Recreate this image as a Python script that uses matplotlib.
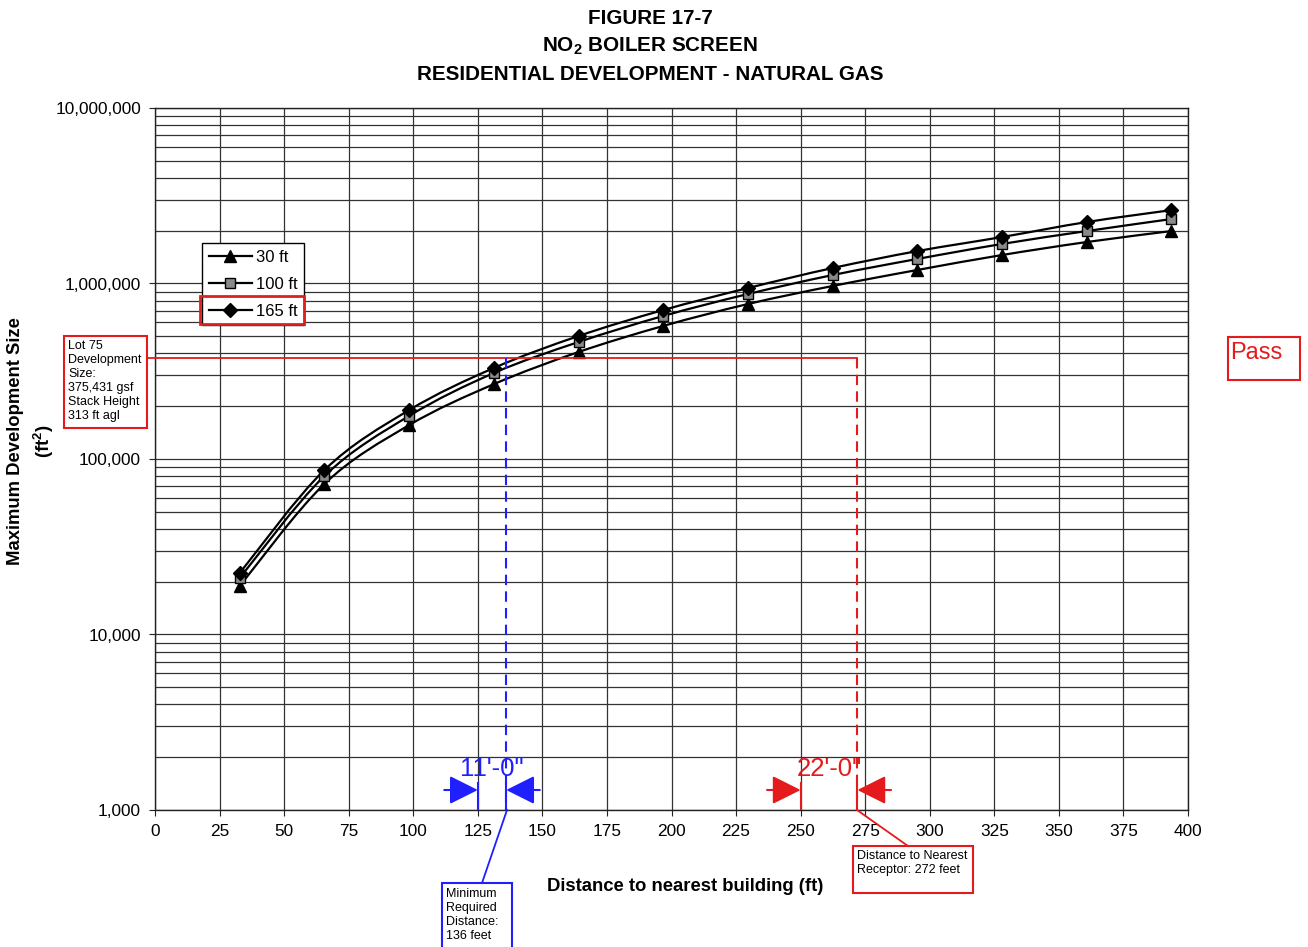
import numpy as np
import matplotlib
matplotlib.use("Agg")
import matplotlib.pyplot as plt
from matplotlib.path import Path
from matplotlib.patches import PathPatch, Rectangle
from matplotlib.lines import Line2D
from matplotlib.ticker import FixedLocator, LogLocator, FuncFormatter

plt.rcParams['font.family'] = ['Liberation Sans', 'DejaVu Sans']
plt.rcParams['mathtext.default'] = 'regular'

# ---------------- data ----------------
distance_ft = [32.8, 65.6, 98.4, 131.2, 164.0, 196.8, 229.6, 262.4, 295.2, 328.0, 360.8, 393.6]
size_30ft = [18900, 72100, 156000, 267000, 407000, 573000, 764000, 968000, 1194000, 1453000, 1723000, 1990000]
size_100ft = [21000, 80000, 176000, 309000, 464000, 653000, 871000, 1117000, 1380000, 1680000, 1990000, 2330000]
size_165ft = [22400, 86500, 190000, 330000, 502000, 706000, 942000, 1225000, 1530000, 1840000, 2240000, 2620000]
series_labels = ["30 ft", "100 ft", "165 ft"]

x_ticks = list(range(0, 401, 25))
y_ticks = [1000, 10000, 100000, 1000000, 10000000]

lot_size = 375431
min_distance = 136
receptor_distance = 272
blue_dim_start = 125
red_dim_start = 250

W, H = 1308, 947
fig = plt.figure(figsize=(W / 100, H / 100), dpi=100)


def fx(px):
    return px / W


def fy(py):
    return 1 - py / H


ax = fig.add_axes([fx(155), fy(810), fx(1188) - fx(155), fy(108) - fy(810)])
ax.set_xlim(0, 400)
ax.set_yscale('log')
ax.set_ylim(1000, 10000000)

ax.xaxis.set_major_locator(FixedLocator(x_ticks))
ax.yaxis.set_major_locator(FixedLocator(y_ticks))
ax.yaxis.set_minor_locator(LogLocator(base=10, subs=np.arange(2, 10), numticks=20))
ax.yaxis.set_major_formatter(FuncFormatter(lambda v, p: f"{int(round(v)):,}"))
ax.yaxis.set_minor_formatter(FuncFormatter(lambda v, p: ""))
ax.tick_params(axis='both', which='major', labelsize=12.4, length=4, pad=6, color='#222')
ax.tick_params(axis='y', which='minor', length=0)
ax.grid(True, which='major', axis='both', color='#333333', lw=0.9)
ax.grid(True, which='minor', axis='y', color='#333333', lw=0.9)
ax.set_axisbelow(True)
for s in ax.spines.values():
    s.set_color('#222222')
    s.set_linewidth(1.0)


def smooth_path(xs, ys):
    xs = np.asarray(xs, float)
    ly = np.log10(np.asarray(ys, float))
    P = np.column_stack([xs, ly])
    n = len(P)
    verts = [P[0]]
    codes = [Path.MOVETO]
    for i in range(n - 1):
        p0 = P[i - 1] if i > 0 else P[i]
        p1 = P[i]
        p2 = P[i + 1]
        p3 = P[i + 2] if i + 2 < n else P[i + 1]
        c1 = p1 + (p2 - p0) / 6.0
        c2 = p2 - (p3 - p1) / 6.0
        verts += [c1, c2, p2]
        codes += [Path.CURVE4] * 3
    verts = np.array(verts)
    verts[:, 1] = 10 ** verts[:, 1]
    return Path(verts, codes)


series = [(size_30ft, '^', 'black', 8.5), (size_100ft, 's', '#8a8a8a', 7.5), (size_165ft, 'D', 'black', 7)]
handles = []
for (ys, mk, fc, ms), lab in zip(series, series_labels):
    ax.add_patch(PathPatch(smooth_path(distance_ft, ys), fill=False, edgecolor='black', lw=1.6, zorder=3))
    ax.plot(distance_ft, ys, linestyle='none', marker=mk, markersize=ms, markerfacecolor=fc,
            markeredgecolor='black', markeredgewidth=1.0, zorder=4)
    handles.append(Line2D([], [], color='black', lw=1.6, marker=mk, markersize=ms,
                          markerfacecolor=fc, markeredgecolor='black', label=lab))

leg = ax.legend(handles=handles, loc='upper left', bbox_to_anchor=((202 - 155) / 1033, (810 - 243) / 702),
                borderaxespad=0, fontsize=12, frameon=True, fancybox=False, edgecolor='black',
                framealpha=1, handlelength=2.6, handletextpad=0.25, labelspacing=0.72, borderpad=0.4)
leg.get_frame().set_linewidth(1.0)

# red highlight box around 165 ft entry
fig.patches.append(Rectangle((fx(200), fy(324)), fx(304) - fx(200), fy(296) - fy(324),
                             transform=fig.transFigure, fill=False, edgecolor='#e0201b', lw=2, zorder=10))

red = '#e41a1c'
blue = '#1f1fff'

# horizontal red line for lot size (from left box edge)
x_left_box = (147 - 155) / 1033 * 400
ax.plot([x_left_box, receptor_distance], [lot_size, lot_size], color=red, lw=1.3, clip_on=False, zorder=5)
# vertical dashed lines
ax.plot([min_distance, min_distance], [lot_size, 1000], color=blue, lw=1.5, ls=(0, (5, 3)), zorder=5)
ax.plot([receptor_distance, receptor_distance], [lot_size, 1000], color=red, lw=1.5, ls=(0, (5, 3)), zorder=5)

# dimension markers
y_arrow = 10 ** (3 + 20 / 175.5)
y_tick_top = 10 ** (3 + 27 / 175.5)
y_dimtext = 10 ** (3 + 41 / 175.5)
for x0, x1, col, txt in [(blue_dim_start, min_distance, blue, "11'-0\""),
                         (red_dim_start, receptor_distance, red, "22'-0\"")]:
    ax.plot([x0, x0], [1000, y_tick_top], color=col, lw=1.5, zorder=6)
    ax.plot([x1, x1], [1000, y_tick_top], color=col, lw=1.5, zorder=6)
    ax.annotate('', xy=(x0, y_arrow), xytext=(x0 - 13, y_arrow),
                arrowprops=dict(arrowstyle='-|>,head_length=0.8,head_width=0.4', color=col, lw=1.5,
                                mutation_scale=22, shrinkA=0, shrinkB=0), zorder=6)
    ax.annotate('', xy=(x1, y_arrow), xytext=(x1 + 13, y_arrow),
                arrowprops=dict(arrowstyle='-|>,head_length=0.8,head_width=0.4', color=col, lw=1.5,
                                mutation_scale=22, shrinkA=0, shrinkB=0), zorder=6)
    ax.text((x0 + x1) / 2, y_dimtext, txt, color=col, fontsize=18.5, ha='center', va='center', zorder=6)

# leader lines to bottom boxes
fig.lines.append(Line2D([fx(507), fx(482)], [fy(810), fy(883)], transform=fig.transFigure, color=blue, lw=1.3))
fig.lines.append(Line2D([fx(857), fx(908)], [fy(810), fy(846)], transform=fig.transFigure, color=red, lw=1.3))


def box(x0, y0, x1, y1, col, lw=1.5):
    fig.patches.append(Rectangle((fx(x0), fy(y1)), fx(x1) - fx(x0), fy(y0) - fy(y1),
                                 transform=fig.transFigure, fill=False, edgecolor=col, lw=lw, zorder=10))


# left annotation box
box(64, 336, 147, 428, red)
fig.text(fx(68), fy(339.5), "Lot 75\nDevelopment\nSize:\n375,431 gsf\nStack Height\n313 ft agl",
         fontsize=9, va='top', ha='left', linespacing=1.24)

# Pass box
box(1228, 337, 1300, 380, red)
fig.text(fx(1256), fy(353), "Pass", color=red, fontsize=17, ha='center', va='center')

# bottom blue box
box(442, 883, 512, 950, blue)
fig.text(fx(446), fy(888), "Minimum\nRequired\nDistance:\n136 feet", fontsize=9, va='top', ha='left',
         linespacing=1.23)

# bottom red box
box(853, 846, 973, 893, red)
fig.text(fx(857), fy(850), "Distance to Nearest\nReceptor: 272 feet", fontsize=9, va='top', ha='left',
         linespacing=1.23)

# titles
title_fs = 14.9
fig.text(fx(650), fy(18.5), "FIGURE 17-7", fontsize=title_fs, fontweight='bold', ha='center', va='center')
fig.text(fx(650), fy(46), "NO$_2$ BOILER SCREEN", fontsize=title_fs, fontweight='bold', ha='center', va='center')
fig.text(fx(650), fy(74), "RESIDENTIAL DEVELOPMENT - NATURAL GAS", fontsize=title_fs, fontweight='bold',
         ha='center', va='center')

# axis labels
fig.text(fx(685), fy(886), "Distance to nearest building (ft)", fontsize=13.3, fontweight='bold',
         ha='center', va='center')
fig.text(fx(16), fy(441), "Maximum Development Size", fontsize=13.3, fontweight='bold',
         ha='center', va='center', rotation=90)
fig.text(fx(44), fy(441), "(ft$^2$)", fontsize=13.3, fontweight='bold', ha='center', va='center', rotation=90)

fig.savefig("out.png", dpi=100)
